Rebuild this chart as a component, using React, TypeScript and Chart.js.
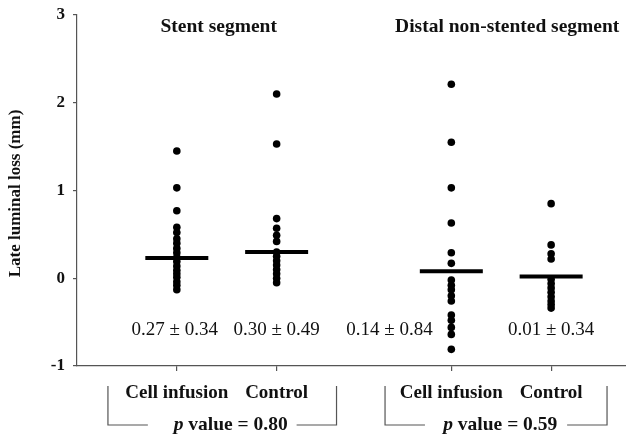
import React, { useEffect, useRef } from "react";
import { Chart, registerables } from "chart.js";
Chart.register(...registerables);

// ---- data ----
const categories = ["Cell infusion", "Control", "Cell infusion", "Control"];
const groupTitles = ["Stent segment", "Distal non-stented segment"];
const cellStent = [1.45, 1.03, 0.77, 0.58, 0.52, 0.45, 0.4, 0.34, 0.29, 0.24, 0.19, 0.14, 0.09, 0.05, 0.01, -0.04, -0.08, -0.13];
const controlStent = [2.1, 1.53, 0.68, 0.57, 0.49, 0.42, 0.3, 0.25, 0.2, 0.15, 0.1, 0.05, 0.0, -0.05];
const cellDistal = [2.21, 1.55, 1.03, 0.63, 0.29, 0.17, -0.02, -0.08, -0.13, -0.2, -0.26, -0.42, -0.48, -0.56, -0.64, -0.81];
const controlDistal = [0.85, 0.38, 0.28, 0.22, -0.01, -0.06, -0.11, -0.16, -0.21, -0.26, -0.3, -0.34];
const means = [0.23, 0.3, 0.08, 0.02];
const statLabels = ["0.27 \u00b1 0.34", "0.30 \u00b1 0.49", "0.14 \u00b1 0.84", "0.01 \u00b1 0.34"];
const pValues = ["0.80", "0.59"];
const yTicks = [-1, 0, 1, 2, 3];
const yTitle = "Late luminal loss (mm)";

// ---- layout (not data) ----
const X_POS = [1, 2, 3.75, 4.75];
const STAT_X = [0.98, 2, 3.13, 4.75];
const TITLE_X = [1.42, 4.31];
const SERIF = "'Liberation Serif', 'Times New Roman', serif";
const AXIS_COLOR = "#555";

const groups = [cellStent, controlStent, cellDistal, controlDistal];

const annotPlugin = {
  id: "annot",
  afterDraw(chart: any) {
    const { ctx } = chart;
    const x = chart.scales.x;
    const y = chart.scales.y;
    ctx.save();
    ctx.fillStyle = "#111";
    ctx.textAlign = "center";
    ctx.textBaseline = "middle";

    // group titles
    ctx.font = `bold 19.5px ${SERIF}`;
    groupTitles.forEach((t, i) => ctx.fillText(t, x.getPixelForValue(TITLE_X[i]), y.getPixelForValue(2.86)));

    // stat labels
    ctx.font = `19px ${SERIF}`;
    statLabels.forEach((t, i) => ctx.fillText(t, x.getPixelForValue(STAT_X[i]), y.getPixelForValue(-0.59)));

    // y title
    ctx.save();
    ctx.translate(16, (y.top + y.bottom) / 2 + 3);
    ctx.rotate(-Math.PI / 2);
    ctx.font = `bold 17px ${SERIF}`;
    ctx.fillText(yTitle, 0, 0);
    ctx.restore();

    // brackets
    const brackets = [
      { l: 0.31, ll: 0.71, c: 1.54, rr: 2.2, r: 2.6, p: pValues[0] },
      { l: 3.086, ll: 3.486, c: 4.24, rr: 4.91, r: 5.31, p: pValues[1] },
    ];
    const top = y.bottom + 20;
    const bot = y.bottom + 59;
    ctx.strokeStyle = AXIS_COLOR;
    ctx.lineWidth = 1.2;
    brackets.forEach((b) => {
      const L = x.getPixelForValue(b.l);
      const LL = x.getPixelForValue(b.ll);
      const RR = x.getPixelForValue(b.rr);
      const R = x.getPixelForValue(b.r);
      ctx.beginPath();
      ctx.moveTo(L, top);
      ctx.lineTo(L, bot);
      ctx.lineTo(LL, bot);
      ctx.moveTo(RR, bot);
      ctx.lineTo(R, bot);
      ctx.lineTo(R, top);
      ctx.stroke();
      // text: italic p + rest
      const pFont = `italic bold 19.5px ${SERIF}`;
      const restFont = `bold 19.5px ${SERIF}`;
      const rest = " value = " + b.p;
      ctx.font = pFont;
      const wp = ctx.measureText("p").width;
      ctx.font = restFont;
      const wr = ctx.measureText(rest).width;
      const start = x.getPixelForValue(b.c) - (wp + wr) / 2;
      ctx.textAlign = "left";
      ctx.font = pFont;
      ctx.fillText("p", start, bot);
      ctx.font = restFont;
      ctx.fillText(rest, start + wp, bot);
      ctx.textAlign = "center";
    });
    ctx.restore();
  },
};

export default function App() {
  const ref = useRef<HTMLCanvasElement>(null);
  useEffect(() => {
    if (!ref.current) return;
    const datasets: any[] = [];
    groups.forEach((g, i) => {
      datasets.push({
        type: "scatter",
        data: g.map((v) => ({ x: X_POS[i], y: v })),
        pointRadius: 3.8,
        pointBackgroundColor: "#000",
        pointBorderWidth: 0,
        showLine: false,
      });
    });
    datasets.push({
      type: "scatter",
      data: means.map((m, i) => ({ x: X_POS[i], y: m })),
      pointStyle: "line",
      pointRadius: 31.5,
      pointBorderColor: "#000",
      borderColor: "#000",
      pointBorderWidth: 4,
      showLine: false,
    });
    const chart = new Chart(ref.current, {
      type: "scatter",
      data: { datasets },
      plugins: [annotPlugin],
      options: {
        responsive: false,
        animation: false,
        events: [],
        layout: { autoPadding: false, padding: { top: 15, right: 0, left: 0, bottom: 0 } },
        plugins: { legend: { display: false }, tooltip: { enabled: false } },
        scales: {
          x: {
            type: "linear",
            min: 0,
            max: 5.5,
            afterBuildTicks: (scale: any) => {
              scale.ticks = X_POS.map((v) => ({ value: v }));
            },
            afterFit: (scale: any) => {
              scale.height = 71;
              scale.paddingLeft = 0;
              scale.paddingRight = 0;
            },
            ticks: {
              autoSkip: false,
              maxRotation: 0,
              callback: (_v: any, i: number) => categories[i],
              font: { family: SERIF, size: 19, weight: "bold" },
              color: "#111",
              padding: 11,
            },
            grid: { drawOnChartArea: false, drawTicks: true, tickLength: 5, color: AXIS_COLOR, lineWidth: 1.2 },
            border: { color: AXIS_COLOR, width: 1.2 },
          },
          y: {
            type: "linear",
            min: -1,
            max: 3,
            afterBuildTicks: (scale: any) => {
              scale.ticks = yTicks.map((v) => ({ value: v }));
            },
            afterFit: (scale: any) => {
              scale.width = 77;
              scale.paddingTop = 0;
              scale.paddingBottom = 0;
            },
            ticks: {
              callback: (v: any) => String(v),
              font: { family: SERIF, size: 17, weight: "bold" },
              color: "#111",
              padding: 8,
            },
            grid: { drawOnChartArea: false, drawTicks: true, tickLength: 4, color: AXIS_COLOR, lineWidth: 1.2 },
            border: { color: AXIS_COLOR, width: 1.2 },
          },
        },
      },
    } as any);
    return () => chart.destroy();
  }, []);
  return (
    <div style={{ position: "fixed", left: 0, top: 0, width: 626, height: 437, background: "#fff" }}>
      <canvas ref={ref} width={626} height={437} />
    </div>
  );
}
